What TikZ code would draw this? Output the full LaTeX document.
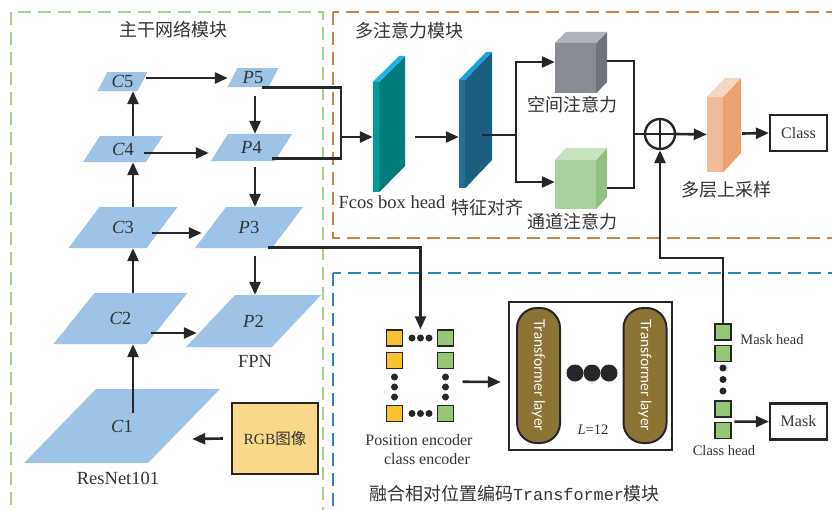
\documentclass[tikz,border=0pt]{standalone}
\usepackage{fontspec}
\setmainfont{Liberation Serif}
\setmonofont{Liberation Mono}
\newfontfamily\cjk{Noto Sans CJK SC}
\newfontfamily\layerfont{Lato}
\usetikzlibrary{arrows.meta,calc,fit}

\definecolor{ink}{HTML}{262626}
\definecolor{txt}{HTML}{333333}
\definecolor{mapblue}{HTML}{9DC3E6}
\definecolor{framegreen}{HTML}{A9D18E}
\definecolor{frameorange}{HTML}{C8834A}
\definecolor{frameblue}{HTML}{2E86C1}
\definecolor{fcosc-front}{HTML}{009A9A}
\definecolor{fcosc-side}{HTML}{007C7C}
\definecolor{fcosc-top}{HTML}{22B4E8}
\definecolor{alignc-front}{HTML}{1F7099}
\definecolor{alignc-side}{HTML}{1C5E7E}
\definecolor{alignc-top}{HTML}{1BA3E0}
\definecolor{grayc-front}{HTML}{878C92}
\definecolor{grayc-side}{HTML}{6D7378}
\definecolor{grayc-top}{HTML}{AEB3BA}
\definecolor{greenc-front}{HTML}{ABCFA0}
\definecolor{greenc-side}{HTML}{92C17F}
\definecolor{greenc-top}{HTML}{C9E2BF}
\definecolor{orangec-front}{HTML}{F2BB97}
\definecolor{orangec-side}{HTML}{EBA172}
\definecolor{orangec-top}{HTML}{F6D7C4}
\definecolor{rgbfill}{HTML}{FCD98A}
\definecolor{encyellow}{HTML}{F8C22D}
\definecolor{encgreen}{HTML}{94C673}
\definecolor{layerbrown}{HTML}{8B7434}

% feature map: name, x, y, width, height, slant, label
\newcommand\featmap[7]{%
	\fill[mapblue] ({#2-(#4+#6)/2},{#3+#5/2}) -- ++(#6,-#5) -- ++(#4,0) -- ++(-#6,#5) -- cycle;
	\node[maplabel, minimum width=#4pt, minimum height=#5pt] (#1) at (#2,#3) {#7};
}
% block with depth: name, position, width, height, depth x, depth y, colour prefix
\newcommand\featslab[7]{%
	\node[fill=#7-front, minimum width=#3pt, minimum height=#4pt, inner sep=0pt] (#1) at (#2) {};
	\fill[#7-side] (#1.north east) -- ++(#5,-#6) -- ++(0,#4) -- (#1.south east) -- cycle;
	\fill[#7-top] (#1.north west) -- (#1.north east) -- ++(#5,-#6) -- ++(-#3,0) -- cycle;
}

\tikzset{
	wire/.style={draw=ink, line width=2.6pt},
	flow/.style={wire, -{Triangle[length=13pt,width=11pt]}},
	moduleframe/.style={line width=2pt, dash pattern=on 13pt off 7pt},
	maplabel/.style={inner sep=0pt, text=txt, font=\fontsize{18.5}{20}\selectfont},
	cjklabel/.style={inner sep=0pt, text=txt, font=\cjk\fontsize{18}{20}\selectfont},
	txtlabel/.style={inner sep=0pt, text=txt, font=\fontsize{18.5}{20}\selectfont},
	smalllabel/.style={inner sep=0pt, text=txt, font=\fontsize{14.5}{16}\selectfont},
	enclabel/.style={inner sep=0pt, text=txt, font=\fontsize{16}{18}\selectfont},
	outbox/.style={draw=ink, line width=2.2pt, minimum width=57pt, minimum height=36pt, inner sep=0pt, text=txt, font=\fontsize{16}{18}\selectfont},
	enccell/.style={draw=ink, line width=1.6pt, minimum size=16pt, inner sep=0pt},
	dot/.style={circle, fill=ink, minimum size=7pt, inner sep=0pt},
	bigdot/.style={circle, fill=ink, minimum size=17pt, inner sep=0pt},
	tlayer/.style={rotate=-90, draw=ink, line width=2pt, fill=layerbrown, rounded corners=20pt, minimum width=135pt, minimum height=43pt, inner sep=0pt, text=white, font=\layerfont\fontsize{14.5}{16}\selectfont},
}

\begin{document}
\begin{tikzpicture}[x=1pt, y=-1pt]
	\useasboundingbox (0,0) rectangle (832,509);
	\clip (0,0) rectangle (832,509);

	% module frames
	\draw[moduleframe, framegreen] (11,12) rectangle (323,530);
	\draw[moduleframe, frameorange] (333,12) rectangle (850,238);
	\draw[moduleframe, frameblue] (333,273) rectangle (850,530);
	\node[cjklabel] (backbone) at (173.5,30) {主干网络模块};
	\node[cjklabel] (attn) at (409.5,31) {多注意力模块};
	\node[cjklabel] (fusion) at (514.5,494) {融合相对位置编码{\ttfamily\fontsize{16.8}{18}\selectfont Transformer}模块};

	% backbone and FPN
	\featmap{C5}{122.5}{81.5}{40}{19}{10}{{\itshape C}5}
	\featmap{C4}{123}{149}{63}{26}{17}{{\itshape C}4}
	\featmap{C3}{123}{227.5}{78}{41}{31}{{\itshape C}3}
	\featmap{C2}{120.5}{318.5}{93}{51}{41}{{\itshape C}2}
	\featmap{C1}{122}{426}{124}{74}{72}{{\itshape C}1}
	\featmap{P5}{253}{77.5}{41}{19}{10}{{\itshape P}5}
	\featmap{P4}{251.5}{147.5}{64}{27}{17}{{\itshape P}4}
	\featmap{P3}{249}{227.5}{77}{41}{31}{{\itshape P}3}
	\featmap{P2}{253.5}{321}{86}{52}{49}{{\itshape P}2}
	\node[txtlabel] (resnet) at (118,478) {ResNet101};
	\node[txtlabel] (fpn) at (255,361) {FPN};
	\node[draw=ink, line width=2.2pt, fill=rgbfill, minimum width=86pt, minimum height=71pt, inner sep=0pt, text=txt, font=\fontsize{15.5}{17}\selectfont] (rgb) at (275,438.5) {RGB{\cjk 图像}};

	\draw[flow] ([xshift=-8pt]rgb.west) -- ([xshift=8pt,yshift=-13pt]C1.east);
	\draw[flow] ([xshift=11pt,yshift=-24pt]C1.north) -- ([xshift=12.5pt]C2.south);
	\draw[flow] ([xshift=12.5pt]C2.north) -- ([xshift=10pt]C3.south);
	\draw[flow] ([xshift=10pt]C3.north) -- ([xshift=10pt]C4.south);
	\draw[flow] ([xshift=10pt]C4.north) -- ([xshift=10.5pt]C5.south);
	\draw[flow] ([xshift=3.5pt,yshift=3.5pt]C5.east) -- ([xshift=-4.5pt,yshift=-0.5pt]P5.west);
	\draw[flow] ([xshift=-10.5pt,yshift=-4pt]C4.east) -- ([xshift=-10.5pt,yshift=-5.5pt]P4.west);
	\draw[flow] ([xshift=-10pt,yshift=-5.5pt]C3.east) -- ([xshift=-8.5pt,yshift=-5.5pt]P3.west);
	\draw[flow] ([xshift=-16pt,yshift=-14.5pt]C2.east) -- ([xshift=-13.5pt,yshift=-12pt]P2.west);
	\draw[flow] ([xshift=2pt,yshift=-9pt]P5.south) -- ([xshift=3.5pt]P4.north);
	\draw[flow] ([xshift=3.5pt,yshift=-6pt]P4.south) -- ([xshift=6pt]P3.north);
	\draw[flow] ([xshift=6pt,yshift=-8pt]P3.south) -- ([xshift=1.5pt]P2.north);

	% attention branch
	\featslab{fcos}{376,137}{6}{110}{26}{26}{fcosc}
	\featslab{align}{462,134}{6}{108}{27}{28}{alignc}
	\featslab{spatial}{575.5,68}{41}{50}{11}{11}{grayc}
	\featslab{channel}{575.5,184.5}{41}{49}{11}{12}{greenc}
	\featslab{upsample}{715,134.5}{16}{75}{18}{19}{orangec}
	\node[txtlabel] (fcoslbl) at (392,202) {Fcos box head};
	\node[cjklabel] (alignlbl) at (487,208) {特征对齐};
	\node[cjklabel] (spatiallbl) at (572,105) {空间注意力};
	\node[cjklabel] (channellbl) at (572,222) {通道注意力};
	\node[cjklabel] (upsamplelbl) at (726,190) {多层上采样};
	\node[circle, draw=ink, line width=2.4pt, minimum size=30pt, inner sep=0pt,
		path picture={\draw[ink, line width=2.4pt] (path picture bounding box.north) -- (path picture bounding box.south)
			(path picture bounding box.west) -- (path picture bounding box.east);}] (plus) at (660,134) {};
	\node[outbox] (class) at (798.5,133) {Class};

	\coordinate (fuse) at (341,137);
	\coordinate (split) at (516,135);
	\coordinate (merge) at (634,134);
	\draw[wire] ([xshift=-11.5pt]P5.south east) -| (fuse) |- ([xshift=-11.5pt,yshift=3pt]P4.south east);
	\draw[flow] (fuse) -- (fcos.west);
	\draw[flow] ([xshift=36pt]fcos.east) -- ([yshift=-3pt]align.west);
	\draw[wire] ([xshift=17pt,yshift=-1pt]align.east) -- (split);
	\draw[flow] (split) |- ([yshift=6pt]spatial.west);
	\draw[flow] (split) |- ([yshift=2.5pt]channel.west);
	\draw[wire] ([xshift=11pt,yshift=7pt]spatial.east) -| (merge);
	\draw[wire] ([xshift=11pt,yshift=-3.5pt]channel.east) -| (merge);
	\draw[wire] (merge) -- (plus.west);
	\draw[flow] (plus.east) -- (upsample.west);
	\draw[flow] ([xshift=19pt,yshift=1pt]upsample.east) -- (class.west);

	% encoders and transformer
	\node[enccell, fill=encyellow] (y1) at (394.5,338) {};
	\node[enccell, fill=encyellow] (y2) at (394.5,360.5) {};
	\node[enccell, fill=encyellow] (y3) at (394.5,413.5) {};
	\node[enccell, fill=encgreen] (g1) at (445.5,338) {};
	\node[enccell, fill=encgreen] (g2) at (445.5,360.5) {};
	\node[enccell, fill=encgreen] (g3) at (445.5,413.5) {};
	\node[dot] (tdot) at (420.5,338) {};
	\foreach \x in {412,429} \node[dot] at (\x,338) {};
	\foreach \x in {412,420.5,429} \node[dot] at (\x,413.5) {};
	\foreach \y in {377,387,397} {
		\node[dot] at (394.5,\y) {};
		\node[dot] at (445.5,\y) {};
	}
	\node[fit=(y1)(g3), inner sep=0pt] (enc) {};
	\node[enclabel] (poslbl) at (419,440) {Position encoder};
	\node[enclabel] (clslbl) at (427,459) {class encoder};

	\node[draw=ink, line width=2.2pt, minimum width=163pt, minimum height=148pt, inner sep=0pt] (tbox) at (590.5,376) {};
	\node[tlayer] (tl1) at (538.5,375.5) {Transformer layer};
	\node[tlayer] (tl2) at (645,375.5) {Transformer layer};
	\foreach \x [count=\i] in {575,592,609} \node[bigdot] (bd\i) at (\x,373) {};
	\node[smalllabel] (depth) at (593,430) {{\itshape L}=12};

	\draw[flow, shorten >=5pt] ([xshift=-20pt,yshift=1pt]P3.south east) -| (tdot.north);
	\draw[flow] ([xshift=8pt,yshift=-6pt]enc.east) -- ([xshift=-7pt,yshift=-6pt]tbox.west);

	% heads
	\node[enccell, fill=encgreen] (mh1) at (723,332) {};
	\node[enccell, fill=encgreen] (mh2) at (723,353.5) {};
	\node[enccell, fill=encgreen] (mh3) at (723,409) {};
	\node[enccell, fill=encgreen] (mh4) at (723,430.5) {};
	\foreach \y in {368,379.5,391} \node[dot] at (723,\y) {};
	\node[smalllabel] (masklbl) at (772,340) {Mask head};
	\node[smalllabel] (clshead) at (724,451) {Class head};
	\node[outbox] (mask) at (798.5,421.5) {Mask};

	\coordinate (bend) at (660,258);
	\draw[flow] (mh1.north) |- (bend) -- (plus.south);
	\draw[flow] ([xshift=2.5pt]mh4.north east) -- (mask.west);
\end{tikzpicture}
\end{document}
